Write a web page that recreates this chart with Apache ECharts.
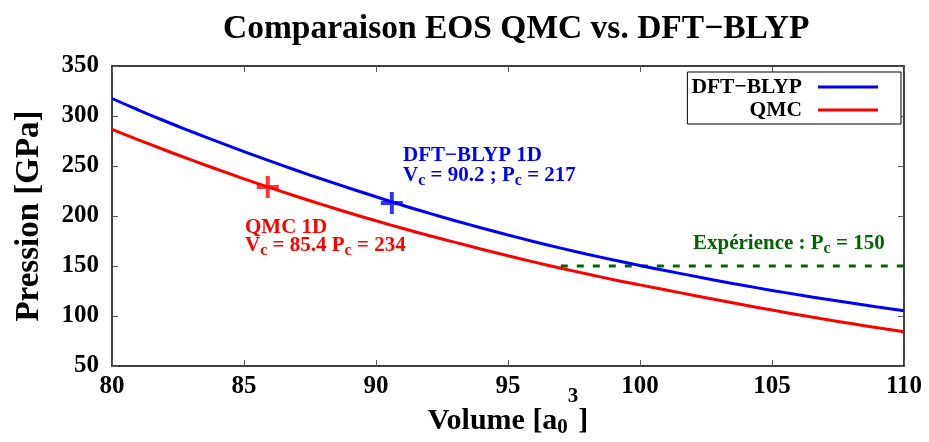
<!DOCTYPE html>
<html>
<head>
<meta charset="utf-8">
<script src="https://cdn.jsdelivr.net/npm/echarts@6/dist/echarts.min.js"></script>
<style>
html, body { margin: 0; padding: 0; background: #fff; }
#container { width: 929px; height: 442px; }
</style>
</head>
<body>
<div id="container"></div>
<script>
var dom = document.getElementById("container");
var myChart = echarts.init(dom);

// volumes [a0^3]
var volumes = [80, 81, 82, 83, 84, 85, 86, 87, 88, 89, 90, 91, 92, 93, 94, 95,
    96, 97, 98, 99, 100, 101, 102, 103, 104, 105, 106, 107, 108, 109, 110];
// pression [GPa]
var dftBlyp = [317.5, 306.0, 295.0, 284.5, 274.3, 264.4, 254.8, 245.5, 236.5, 227.8, 219.2,
    210.8, 202.9, 195.3, 188.0, 181.0, 174.3, 167.9, 161.8, 156.0, 150.5,
    145.2, 140.1, 135.0, 130.2, 125.6, 121.2, 117.0, 113.0, 109.1, 105.3];
var qmc = [286.7, 276.2, 266.0, 256.1, 246.5, 237.2, 228.2, 219.5, 211.1, 203.0, 195.2,
    187.7, 180.5, 173.6, 166.8, 160.2, 153.9, 147.8, 142.0, 136.3, 131.1,
    126.0, 120.8, 115.7, 110.7, 105.9, 101.2, 96.7, 92.4, 88.2, 84.2];
// points critiques (croix)
var dftCrit = [90.6, 213];
var qmcCrit = [85.9, 229];
// experience
var expVolumes = [97, 110];
var expPression = [150, 150];

var serif = 'Liberation Serif';
var plus = 'path://M9,0h4v22h-4z M0,9h22v4h-22z';

var toPairs = function (xs, ys) {
    var out = [];
    for (var i = 0; i < xs.length; i++) {
        out.push([xs[i], ys[i]]);
    }
    return out;
};

var axisCommon = {
    type: 'value',
    axisLine: { show: true, onZero: false, lineStyle: { color: '#000', width: 1.5 } },
    axisTick: { show: true, inside: true, length: 6, lineStyle: { color: '#555', width: 1 } },
    splitLine: { show: false }
};

// texte avec indice "c" (une ligne)
var subText = function (txt, x, y, color) {
    var s = txt.replace(/_c/g, '}{s|c}{m|');
    return {
        type: 'text', left: x, top: y,
        style: {
            text: '{m|' + s + '}',
            rich: {
                m: { fontFamily: serif, fontWeight: 'bold', fontSize: 21, lineHeight: 20, verticalAlign: 'top', fill: color },
                s: { fontFamily: serif, fontWeight: 'bold', fontSize: 16, lineHeight: 16, verticalAlign: 'top', padding: [8, 0, 0, 0], fill: color }
            }
        }
    };
};

var option = {
    backgroundColor: '#fff',
    animation: false,
    title: {
        text: 'Comparaison EOS QMC vs. DFT\u2212BLYP',
        left: 218,
        top: 7,
        textStyle: { fontFamily: serif, fontWeight: 'bold', fontSize: 33.5, color: '#000' }
    },
    legend: {
        orient: 'vertical',
        right: 28,
        top: 72,
        align: 'right',
        icon: 'rect',
        itemWidth: 60,
        itemHeight: 3,
        itemGap: 1,
        padding: [4, 23, 3, 4],
        borderColor: '#000',
        borderWidth: 1,
        backgroundColor: '#fff',
        data: ['DFT\u2212BLYP', 'QMC'],
        textStyle: {
            fontFamily: serif, fontWeight: 'bold', fontSize: 21.5, color: '#000',
            width: 110, lineHeight: 22, align: 'right', padding: [0, 11, 0, 0]
        }
    },
    grid: { left: 112, right: 25, top: 66, bottom: 76, outerBoundsMode: 'none', containLabel: false },
    xAxis: [
        echarts.util.merge({
            min: 80, max: 110, interval: 5, position: 'bottom',
            name: '{m|Volume [a}{sub|0}{sup|3}{m|]}',
            nameLocation: 'middle',
            nameGap: 20,
            nameMoveOverlap: false,
            nameTextStyle: {
                rich: {
                    m: { fontFamily: serif, fontWeight: 'bold', fontSize: 30, lineHeight: 30, color: '#000', verticalAlign: 'top', padding: [20, 0, 0, 0] },
                    sub: { fontFamily: serif, fontWeight: 'bold', fontSize: 21, lineHeight: 21, color: '#000', verticalAlign: 'top', padding: [31, 0, 0, 0] },
                    sup: { fontFamily: serif, fontWeight: 'bold', fontSize: 21, lineHeight: 21, color: '#000', verticalAlign: 'top', padding: [0, 0, 0, 0] }
                }
            },
            axisLabel: { fontFamily: serif, fontWeight: 'bold', fontSize: 25, color: '#000', margin: 8 }
        }, axisCommon, true),
        echarts.util.merge({
            min: 80, max: 110, interval: 5, position: 'top',
            axisLabel: { show: false }
        }, axisCommon, true)
    ],
    yAxis: [
        echarts.util.merge({
            min: 50, max: 350, interval: 50, position: 'left',
            name: 'Pression [GPa]',
            nameLocation: 'middle',
            nameGap: 66,
            nameRotate: 90,
            nameMoveOverlap: false,
            nameTextStyle: { fontFamily: serif, fontWeight: 'bold', fontSize: 33, color: '#000' },
            axisLabel: { fontFamily: serif, fontWeight: 'bold', fontSize: 25, color: '#000', margin: 13 }
        }, axisCommon, true),
        echarts.util.merge({
            min: 50, max: 350, interval: 50, position: 'right',
            axisLabel: { show: false }
        }, axisCommon, true)
    ],
    series: [
        {
            name: 'DFT\u2212BLYP',
            type: 'line',
            smooth: true,
            symbol: 'none',
            data: toPairs(volumes, dftBlyp),
            lineStyle: { color: '#0000ff', width: 3 },
            itemStyle: { color: '#0000ff' },
            z: 3
        },
        {
            name: 'QMC',
            type: 'line',
            smooth: true,
            symbol: 'none',
            data: toPairs(volumes, qmc),
            lineStyle: { color: '#ff0000', width: 3 },
            itemStyle: { color: '#ff0000' },
            z: 3
        },
        {
            name: 'exp',
            type: 'line',
            symbol: 'none',
            data: toPairs(expVolumes, expPression),
            lineStyle: { color: '#006400', width: 3, type: [7, 9] },
            z: 2
        },
        {
            name: 'critDft',
            type: 'scatter',
            symbol: plus,
            symbolSize: 22,
            itemStyle: { color: '#0000ff' },
            data: [dftCrit],
            z: 4
        },
        {
            name: 'critQmc',
            type: 'scatter',
            symbol: plus,
            symbolSize: 22,
            itemStyle: { color: '#ff0000' },
            data: [qmcCrit],
            z: 4
        }
    ],
    graphic: [
        subText('DFT\u2212BLYP 1D', 403, 145, '#0000ff'),
        subText('V_c = 90.2 ; P_c = 217', 403, 165, '#0000ff'),
        subText('QMC 1D', 245, 217, '#ff0000'),
        subText('V_c = 85.4 P_c = 234', 245, 235, '#ff0000'),
        subText('Exp\u00e9rience : P_c = 150', 693, 233, '#006400')
    ]
};

if (option && typeof option === "object") {
    myChart.setOption(option, false);
}
</script>
</body>
</html>
